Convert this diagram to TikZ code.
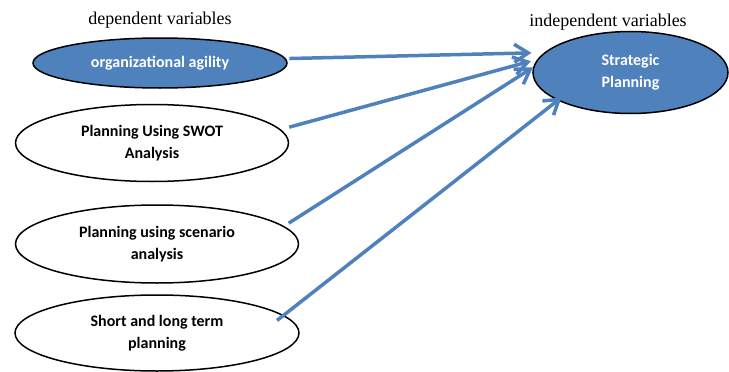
\documentclass[tikz,border=0pt]{standalone}
\usepackage{fontspec}
\setmainfont{Carlito}
\newfontfamily\headfont{Liberation Serif}
\usetikzlibrary{shapes.geometric,arrows.meta}
\definecolor{varblue}{RGB}{79,129,189}
\begin{document}
\begin{tikzpicture}[x=1pt, y=-1pt,
  var/.style={draw,line width=1.5pt,ellipse,inner sep=0pt,align=center,font=\fontsize{16}{22}\selectfont\bfseries},
  dep/.style={var,fill=white},
  key/.style={var,fill=varblue,text=white},
  head/.style={font=\headfont\fontsize{18}{20}\selectfont},
  link/.style={line width=3.5pt,varblue,-{Straight Barb[length=14pt,width=18pt]}}]
\useasboundingbox (0,0) rectangle (729,372);
\node[head] (hdep) at (160,20) {dependent variables};
\node[head] (hind) at (608,22) {independent variables};
\node[key,minimum width=254pt,minimum height=50pt] (agil) at (160,63) {organizational agility};
\node[dep,minimum width=273pt,minimum height=77pt] (swot) at (152,143) {Planning Using SWOT\\Analysis};
\node[dep,minimum width=283pt,minimum height=78pt] (scen) at (157,244) {Planning using scenario\\analysis};
\node[dep,minimum width=284pt,minimum height=76pt] (term) at (157,333) {Short and long term\\planning};
\node[key,minimum width=195pt,minimum height=82pt] (sp) at (630.5,72.5) {Strategic\\Planning};
\draw[link,shorten <=3.6pt,shorten >=12.7pt] (agil.2) -- (sp.167);
\draw[link,shorten <=8.7pt,shorten >=6.6pt] (swot.6) -- (sp.172.5);
\draw[link,shorten <=5.5pt] (scen.8) -- (sp.177.4);
\draw[link,shorten <=-8.5pt,shorten >=-5pt] (term.8) -- (sp.201);
\end{tikzpicture}
\end{document}
